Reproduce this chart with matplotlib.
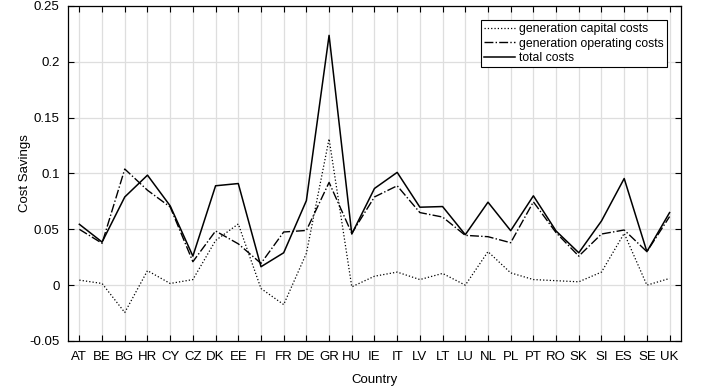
import matplotlib
matplotlib.use("Agg")
import matplotlib.pyplot as plt
import numpy as np

plt.rcParams["font.family"] = ["Liberation Sans", "DejaVu Sans"]

countries = ["AT", "BE", "BG", "HR", "CY", "CZ", "DK", "EE", "FI", "FR", "DE", "GR", "HU", "IE",
             "IT", "LV", "LT", "LU", "NL", "PL", "PT", "RO", "SK", "SI", "ES", "SE", "UK"]

capital = [0.0045, 0.0015, -0.0245, 0.013, 0.0015, 0.005, 0.040, 0.0548, -0.003, -0.0174,
           0.0285, 0.131, -0.0015, 0.008, 0.0117, 0.005, 0.0105, 0.0, 0.030, 0.011,
           0.005, 0.004, 0.003, 0.0117, 0.0464, 0.0, 0.006]
operating = [0.050, 0.0375, 0.104, 0.085, 0.070, 0.021, 0.0485, 0.037, 0.0195, 0.0476,
             0.049, 0.092, 0.0464, 0.079, 0.089, 0.065, 0.061, 0.0446, 0.0434, 0.038,
             0.0746, 0.047, 0.026, 0.0458, 0.0494, 0.030, 0.0614]
total = [0.0545, 0.0386, 0.079, 0.0985, 0.071, 0.026, 0.089, 0.091, 0.0165, 0.029,
         0.0757, 0.2237, 0.0458, 0.0866, 0.101, 0.0698, 0.0704, 0.0452, 0.0743, 0.0488,
         0.080, 0.0485, 0.029, 0.0575, 0.0955, 0.030, 0.065]

x = np.arange(1, len(countries) + 1)

fig = plt.figure(figsize=(7.02, 3.87), dpi=100)
ax = fig.add_axes([0.0969, 0.1189, 0.8731, 0.8656])

ax.plot(x, capital, color="black", linestyle=":", linewidth=0.9, label="generation capital costs")
ax.plot(x, operating, color="black", linestyle="-.", linewidth=1.0, label="generation operating costs")
ax.plot(x, total, color="black", linestyle="-", linewidth=1.1, label="total costs")

ax.set_xlim(0.5, 27.5)
ax.set_ylim(-0.05, 0.25)
ax.set_xticks(x)
ax.set_xticklabels(countries)
ax.set_yticks([-0.05, 0, 0.05, 0.1, 0.15, 0.2, 0.25])
ax.set_yticklabels(["-0.05", "0", "0.05", "0.1", "0.15", "0.2", "0.25"])
ax.grid(True, color="#dedede", linewidth=0.9)
ax.set_axisbelow(True)
ax.tick_params(direction="in", top=True, right=True, length=4, width=0.8, labelsize=9.5)
ax.tick_params(axis="x", pad=7)
ax.tick_params(axis="y", pad=6)
for s in ax.spines.values():
    s.set_linewidth(0.9)

ax.set_xlabel("Country", fontsize=9.5, labelpad=8)
ax.set_ylabel("Cost Savings", fontsize=9.5, labelpad=-1)

leg = ax.legend(loc="upper right", bbox_to_anchor=(0.977, 0.958), borderaxespad=0,
                fontsize=8.8, fancybox=False, framealpha=1, edgecolor="black",
                handlelength=2.6, handletextpad=0.3, borderpad=0.25, labelspacing=0.2)
leg.get_frame().set_linewidth(0.8)

fig.savefig("out.png", dpi=100)
